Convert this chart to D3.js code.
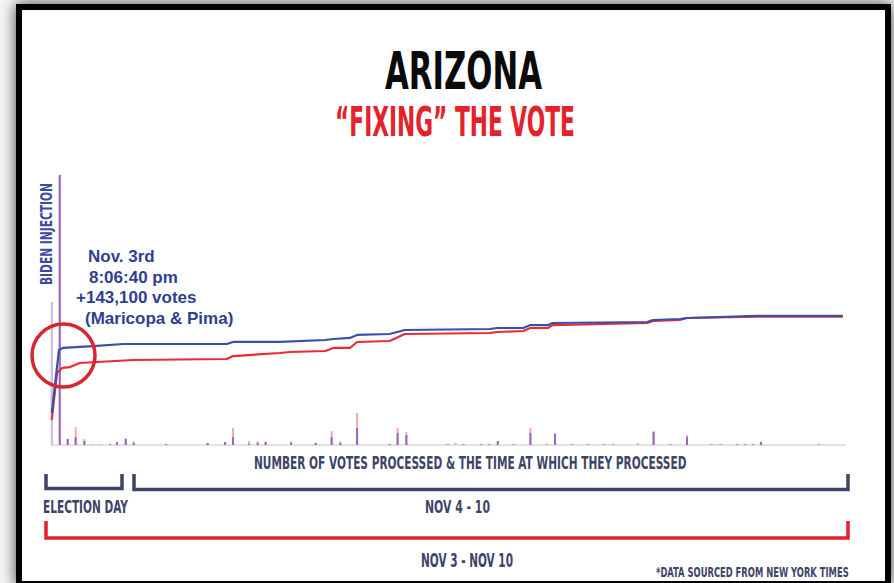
<!DOCTYPE html>
<html><head><meta charset="utf-8">
<script src="https://cdn.jsdelivr.net/npm/d3@7/dist/d3.min.js"></script>
<style>
html,body{margin:0;padding:0;background:#fff;}
svg{display:block;}
</style></head>
<body>
<svg id="chart" width="894" height="583"></svg>
<script>
// progress through the count (% of batches processed, Nov 3 -> Nov 10)
const progressBlue = [0.1, 1.0, 1.5, 5.3, 9.1, 22.1, 22.9, 28.8, 34.5, 35.5, 37.6, 38.5, 42.6, 44.5, 55.2, 56.1, 59.4, 60.3, 62.5, 63.1, 75.0, 75.7, 79.1, 80.0, 88.8, 99.6];
const bidenVotes = [413, 1226, 1252, 1277, 1303, 1303, 1330, 1330, 1355, 1368, 1381, 1420, 1432, 1484, 1497, 1510, 1510, 1548, 1548, 1574, 1587, 1613, 1626, 1639, 1665, 1665];
const progressRed = [0.1, 0.75, 1.4, 2.4, 3.6, 5.8, 10.3, 22.1, 22.9, 28.8, 30.1, 34.5, 35.5, 37.6, 38.5, 42.6, 44.5, 55.2, 56.1, 59.4, 60.3, 62.5, 63.1, 75.0, 75.7, 79.1, 80.0, 88.8, 99.6];
const trumpVotes = [323, 929, 994, 1006, 1058, 1071, 1097, 1110, 1148, 1187, 1200, 1213, 1252, 1252, 1329, 1342, 1432, 1445, 1458, 1471, 1510, 1510, 1548, 1574, 1600, 1613, 1639, 1655, 1655];
// batches (thousands of votes)
const batchProgress = [0.1, 1.1, 2.1, 3.1, 4.2, 5.3, 6.3, 7.4, 8.3, 9.4, 10.4, 14.5, 19.7, 21.9, 22.9, 24.9, 26.0, 27.0, 30.2, 33.3, 35.3, 36.4, 38.5, 42.6, 43.6, 44.7, 49.9, 50.9, 51.9, 54.1, 55.1, 56.2, 58.2, 60.3, 62.4, 63.4, 65.5, 67.5, 69.6, 70.7, 73.8, 75.8, 77.9, 80.0, 83.1, 84.2, 86.3, 87.3, 88.3, 89.3, 96.6];
const batchTotal = [75.8, 143.1, 3.2, 9.5, 3.2, 0.5, 0.5, 0.5, 1.6, 3.7, 2.1, 0.5, 1.1, 1.6, 9.0, 2.1, 2.1, 1.6, 2.1, 1.1, 7.4, 2.1, 17.0, 0.5, 9.0, 6.9, 0.5, 1.1, 0.5, 0.5, 0.5, 2.1, 0.5, 9.0, 0.5, 6.4, 0.5, 0.5, 0.5, 0.5, 1.1, 7.4, 0.5, 5.3, 0.5, 0.5, 0.5, 0.5, 0.5, 1.6, 0.5];
const batchBiden = [75.8, 143.1, 3.2, 4.2, 2.1, 0, 0, 0.5, 1.6, 3.2, 1.1, 0.5, 1.1, 1.6, 4.2, 0.5, 1.1, 1.6, 1.1, 1.1, 4.2, 1.1, 9.0, 0.5, 6.4, 5.3, 0.3, 0, 0.3, 0.3, 0.3, 2.1, 0.3, 6.4, 0.3, 5.8, 0.3, 0.3, 0.3, 0.3, 0, 6.9, 0.3, 4.2, 0.3, 0.3, 0.3, 0.3, 0.3, 1.6, 0.3];

const annotationLines = ["Nov. 3rd", "8:06:40 pm", "+143,100 votes", "(Maricopa & Pima)"];

const svg = d3.select("#chart");
const defs = svg.append("defs");
const f = defs.append("filter").attr("id","sh").attr("x","-10%").attr("y","-10%").attr("width","120%").attr("height","120%");
f.append("feDropShadow").attr("dx",0).attr("dy",0).attr("stdDeviation",8).attr("flood-color","#000").attr("flood-opacity",0.75);

svg.append("rect").attr("x",0).attr("y",0).attr("width",894).attr("height",583).attr("fill","#f6f6f6");
svg.append("rect").attr("x",19).attr("y",7).attr("width",869).attr("height",577)
  .attr("fill","#fff").attr("stroke","#000").attr("stroke-width",6).attr("filter","url(#sh)");

const condensed = "'Liberation Sans Narrow','DejaVu Sans Condensed','Roboto Condensed','Liberation Sans',Arial,sans-serif";
// condensed text: draw natural, then squeeze horizontally to the measured width
function ctext(x, y, str, size, width, color, rotate){
  const g = svg.append("g");
  const t = g.append("text").attr("x",0).attr("y",0).attr("font-family",condensed)
    .attr("font-weight","bold").attr("font-size",size).attr("fill",color).text(str);
  const w = t.node().getComputedTextLength();
  const sx = width / w;
  g.attr("transform", rotate ? `translate(${x},${y}) rotate(-90) scale(${sx},1)` : `translate(${x},${y}) scale(${sx},1)`);
  return t;
}
ctext(385, 89, "ARIZONA", 52, 157, "#0a0a0a");
ctext(335, 136, "\u201CFIXING\u201D THE VOTE", 41, 240, "#e3222b");

const x = d3.scaleLinear().domain([0,100]).range([51,846]);
const y = d3.scaleLinear().domain([0,2000]).range([445,290]);
const yb = d3.scaleLinear().domain([0,143.1]).range([445,175]);

// baseline
svg.append("line").attr("x1",x(0)).attr("x2",x(100)).attr("y1",y(0)).attr("y2",y(0))
  .attr("stroke","#e2e2e2").attr("stroke-width",2);

const bars = batchProgress.map((p,i)=>({p, t:batchTotal[i], b:batchBiden[i], i}));
svg.append("g").selectAll("rect").data(bars).join("rect")
  .attr("x",d=>x(d.p)-1).attr("width",2)
  .attr("y",d=>yb(d.t)).attr("height",d=>yb(0)-yb(d.t))
  .attr("fill",d=>d.i===0?"#cdbfe4":"#f6a9b1");
svg.append("g").selectAll("rect").data(bars.filter(d=>d.b>0)).join("rect")
  .attr("x",d=>x(d.p)-1).attr("width",2)
  .attr("y",d=>yb(d.b)).attr("height",d=>yb(0)-yb(d.b))
  .attr("fill",d=>d.i===0?"#cdbfe4":"#9467c0");

const line = d3.line().x(d=>x(d[0])).y(d=>y(d[1]));
const redPts = progressRed.map((p,i)=>[p, trumpVotes[i]]);
const bluePts = progressBlue.map((p,i)=>[p, bidenVotes[i]]);
svg.append("path").attr("d",line(redPts)).attr("fill","none").attr("stroke","#ec2a33").attr("stroke-width",2.2).attr("stroke-linejoin","round");
svg.append("path").attr("d",line(bluePts)).attr("fill","none").attr("stroke","#3a4fa8").attr("stroke-width",2.2).attr("stroke-linejoin","round");

// annotation
ctext(52, 285, "BIDEN INJECTION", 16.5, 102, "#3b4aa0", true);
const annX = [88, 89, 76, 85];
const annY = [262, 283, 303, 324];
annotationLines.forEach((s,i)=>{
  svg.append("text").attr("x",annX[i]).attr("y",annY[i])
    .attr("font-family","'Liberation Sans',Arial,sans-serif").attr("font-weight","bold")
    .attr("font-size",17).attr("fill","#2f3f90").text(s);
});
svg.append("circle").attr("cx",63.5).attr("cy",355.5).attr("r",31.5)
  .attr("fill","none").attr("stroke","#d7262e").attr("stroke-width",3.5);

// bottom annotations
const navy = "#3d4468";
ctext(254, 469, "NUMBER OF VOTES PROCESSED & THE TIME AT WHICH THEY PROCESSED", 18, 433, navy);
function bracket(x1, x2, yTop, yBot, color){
  svg.append("path").attr("d",`M${x1},${yTop}V${yBot}H${x2}V${yTop}`)
    .attr("fill","none").attr("stroke",color).attr("stroke-width",3.5);
}
bracket(46, 122, 474, 488.5, navy);
bracket(134, 848, 474, 489.5, navy);
bracket(46, 848, 521, 538, "#e3222b");
ctext(43, 513, "ELECTION DAY", 18, 85, navy);
ctext(425, 513, "NOV 4 - 10", 18, 65, navy);
ctext(421, 567, "NOV 3 - NOV 10", 19, 92, navy);
ctext(656, 577, "*DATA SOURCED FROM NEW YORK TIMES", 14, 193, navy);
</script>
</body></html>
